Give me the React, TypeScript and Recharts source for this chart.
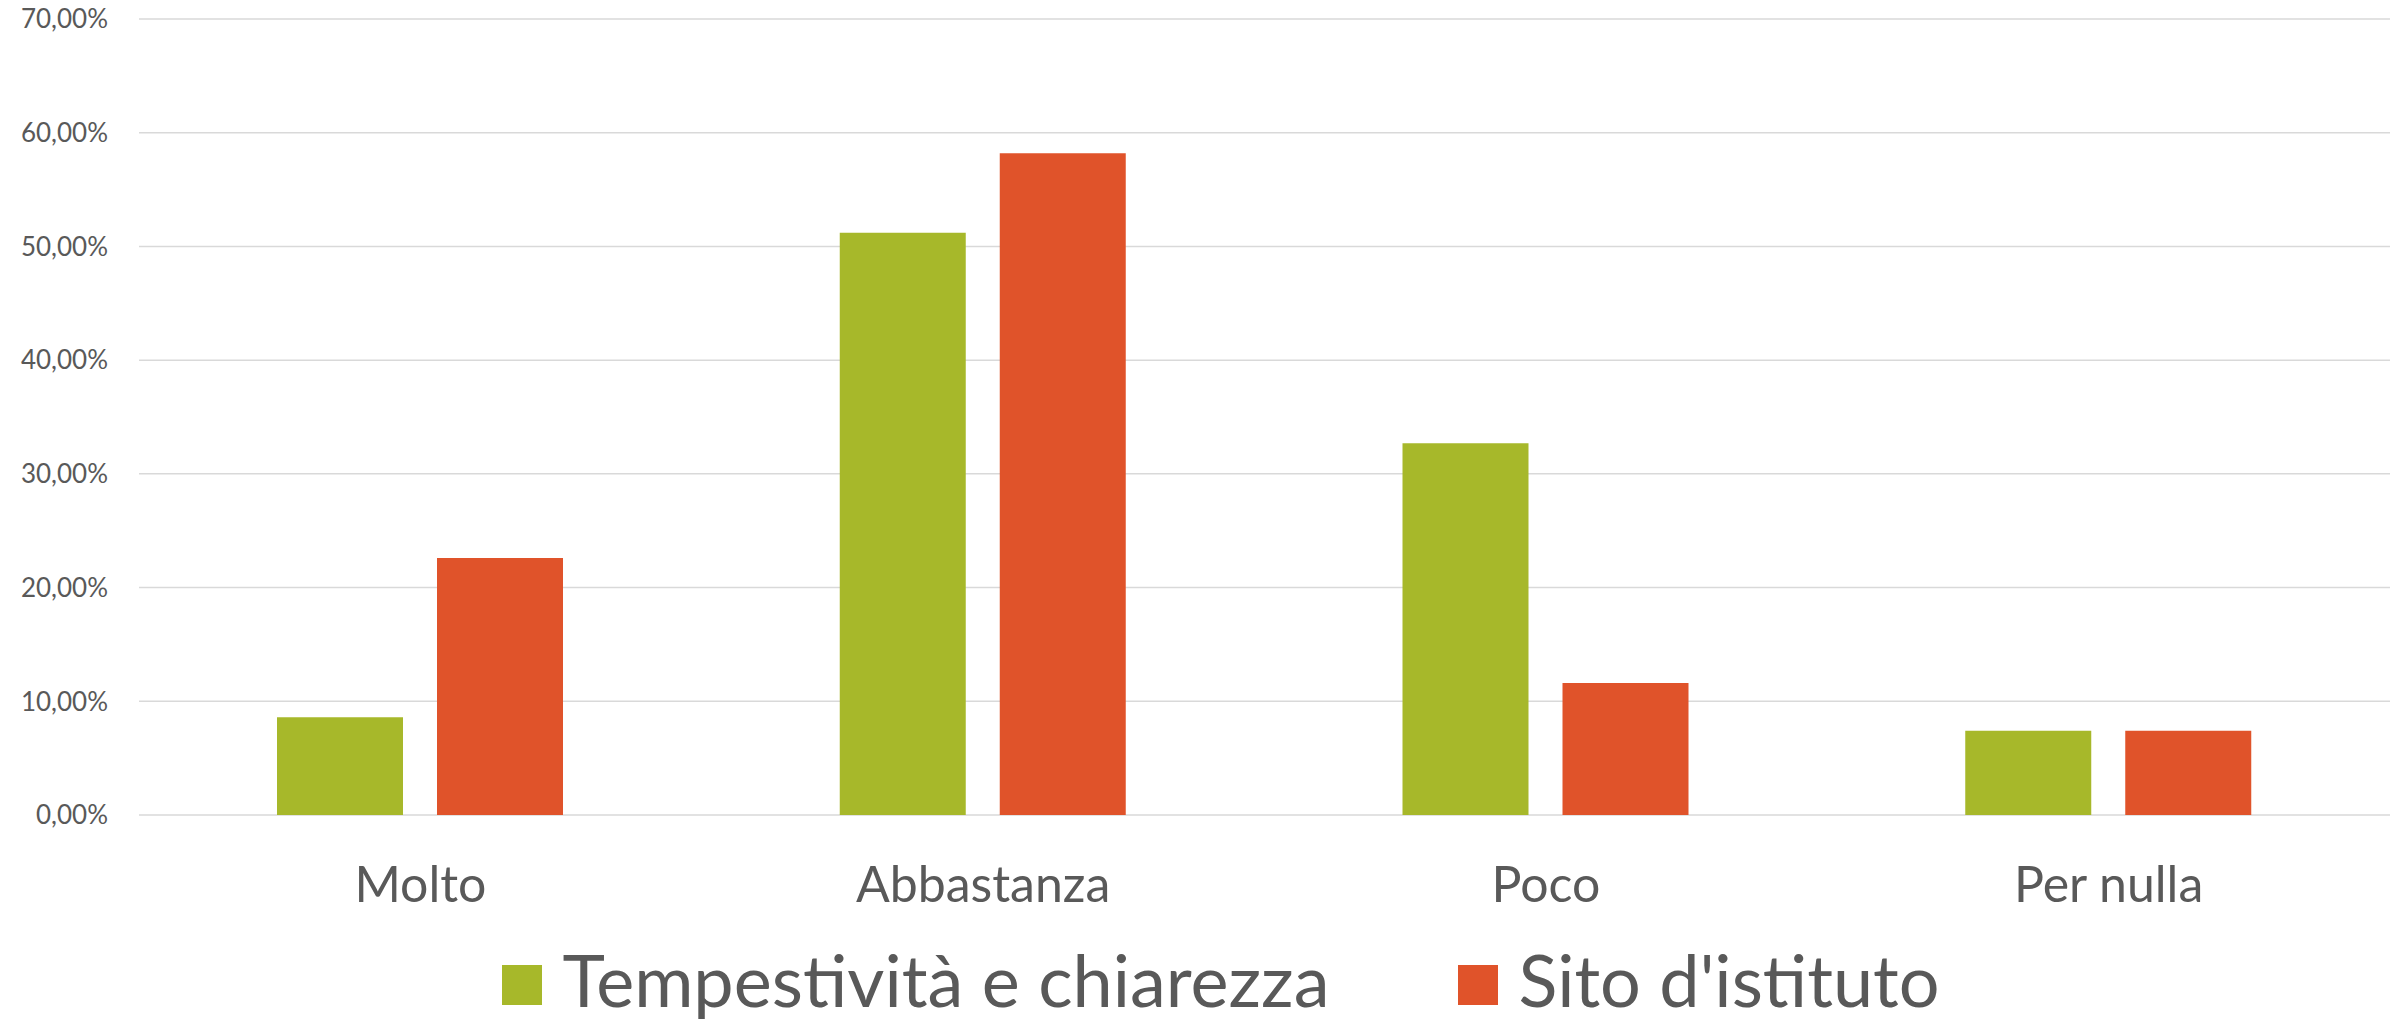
import React from 'react';
import { BarChart, Bar, XAxis, YAxis, CartesianGrid, Legend } from 'recharts';

const categories = ['Molto', 'Abbastanza', 'Poco', 'Per nulla'];
const tempestivita = [8.6, 51.2, 32.7, 7.4];
const sitoIstituto = [22.6, 58.2, 11.6, 7.4];
const yTicks = [0, 10, 20, 30, 40, 50, 60, 70];

const seriesNames = ['Tempestività e chiarezza', "Sito d'istituto"];
const seriesColors = ['#A7B82A', '#E0532A'];

const data = categories.map((c, i) => ({
  name: c,
  a: tempestivita[i],
  b: sitoIstituto[i],
}));

const FONT = 'Lato, "Open Sans", sans-serif';
const TEXT = '#595959';

const fmt = (v: number) => `${v.toFixed(2).replace('.', ',')}%`;

const LegendContent = () => (
  <div
    style={{
      height: 80,
      display: 'flex',
      justifyContent: 'center',
      alignItems: 'flex-start',
      paddingLeft: 52,
      boxSizing: 'border-box',
      fontFamily: FONT,
      color: TEXT,
    }}
  >
    {seriesNames.map((n, i) => (
      <div
        key={n}
        style={{ display: 'flex', alignItems: 'flex-start', marginLeft: i === 0 ? 0 : 129 }}
      >
        <div
          style={{
            width: 40,
            height: 40,
            marginTop: 22,
            marginRight: 20,
            background: seriesColors[i],
          }}
        />
        <span style={{ fontSize: 72, lineHeight: '72px', whiteSpace: 'nowrap' }}>{n}</span>
      </div>
    ))}
  </div>
);

export default function App() {
  return (
    <div style={{ position: 'absolute', left: 0, top: 0, width: 2405, height: 1024, background: '#fff' }}>
      <BarChart
        width={2405}
        height={1024}
        data={data}
        margin={{ top: 19, right: 15, bottom: 1, left: 0 }}
        barGap={34}
        barSize={126}
      >
        <CartesianGrid vertical={false} stroke="#D9D9D9" strokeWidth={1.5} />
        <XAxis
          dataKey="name"
          axisLine={false}
          tickLine={false}
          tickSize={6}
          tickMargin={45}
          height={128}
          interval={0}
          tick={{ fill: TEXT, fontSize: 50, fontFamily: FONT }}
        />
        <YAxis
          domain={[0, 70]}
          ticks={yTicks}
          width={139}
          axisLine={false}
          tickLine={false}
          tickSize={6}
          tickMargin={25}
          tickFormatter={fmt}
          tick={{ fill: TEXT, fontSize: 26, fontFamily: FONT }}
        />
        <Legend verticalAlign="bottom" content={<LegendContent />} />
        <Bar dataKey="a" name={seriesNames[0]} fill={seriesColors[0]} isAnimationActive={false} />
        <Bar dataKey="b" name={seriesNames[1]} fill={seriesColors[1]} isAnimationActive={false} />
      </BarChart>
    </div>
  );
}
